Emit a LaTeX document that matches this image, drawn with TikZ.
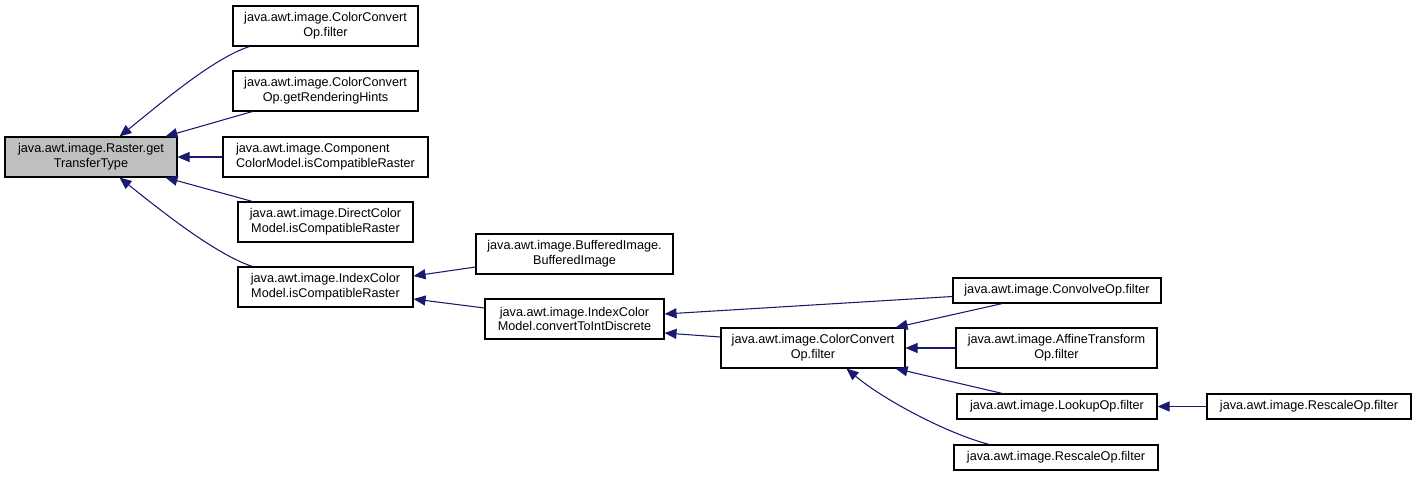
\documentclass[tikz,border=0pt]{standalone}
\usepackage{fontspec}
\setmainfont{Liberation Sans}
\usetikzlibrary{arrows.meta,calc}
\definecolor{edgeblue}{HTML}{191970}
\definecolor{grayfill}{HTML}{BFBFBF}
\begin{document}
\begin{tikzpicture}[x=0.75pt,y=-0.75pt,
  box/.style={draw=black,line width=0.8pt,fill=white,inner sep=0pt,align=center,
    font=\fontsize{9.5}{11.2}\selectfont},
  edge/.style={draw=edgeblue,line width=0.8pt,-{Triangle[length=9pt,width=7.5pt]}}]
\useasboundingbox (0,0) rectangle (1416,477);
% nodes
\node[box,fill=grayfill,minimum width=129pt,minimum height=30pt] (A) at (91,157) {java.awt.image.Raster.get\\TransferType};
\node[box,minimum width=138.75pt,minimum height=30pt] (B1) at (325.5,26) {java.awt.image.ColorConvert\\Op.filter};
\node[box,minimum width=138.75pt,minimum height=30pt] (B2) at (325.5,91) {java.awt.image.ColorConvert\\Op.getRenderingHints};
\node[box,minimum width=153.75pt,minimum height=30pt,align=left] (B3) at (325.5,157) {java.awt.image.Component\\ColorModel.isCompatibleRaster};
\node[box,minimum width=131.25pt,minimum height=30pt] (B4) at (325.5,222) {java.awt.image.DirectColor\\Model.isCompatibleRaster};
\node[box,minimum width=131.25pt,minimum height=30pt] (B5) at (325.5,287) {java.awt.image.IndexColor\\Model.isCompatibleRaster};
\node[box,minimum width=147.75pt,minimum height=30pt] (C1) at (574.5,254) {java.awt.image.BufferedImage.\\BufferedImage};
\node[box,minimum width=134.25pt,minimum height=30pt] (C2) at (574.5,319) {java.awt.image.IndexColor\\Model.convertToIntDiscrete};
\node[box,minimum width=138pt,minimum height=30pt] (D) at (813,348) {java.awt.image.ColorConvert\\Op.filter};
\node[box,minimum width=156pt,minimum height=18.75pt] (E1) at (1057,290.5) {java.awt.image.ConvolveOp.filter};
\node[box,minimum width=150.75pt,minimum height=30pt] (E2) at (1056.5,348) {java.awt.image.AffineTransform\\Op.filter};
\node[box,minimum width=150pt,minimum height=18.75pt] (E3) at (1057,406.5) {java.awt.image.LookupOp.filter};
\node[box,minimum width=153pt,minimum height=18.75pt] (E4) at (1056,457.5) {java.awt.image.RescaleOp.filter};
\node[box,minimum width=153pt,minimum height=18.75pt] (F) at (1309,406.5) {java.awt.image.RescaleOp.filter};
% edges
\draw[edge] ($(B1.south west)+(17,0)$) .. controls ($(B1.south west)+(-20,12)$) and ($(A.north west)+(155,-32)$) .. ($(A.north west)+(115,0)$);
\draw[edge] ($(B2.south west)+(20,0)$) -- ($(A.north west)+(161,0)$);
\draw[edge] (B3.west) -- (A.east);
\draw[edge] ($(B4.north west)+(15,0)$) -- ($(A.south west)+(161,0)$);
\draw[edge] ($(B5.north west)+(15,0)$) .. controls ($(B5.north west)+(-22,-12)$) and ($(A.south west)+(155,32)$) .. ($(A.south west)+(115,0)$);
\draw[edge] ($(C1.west)+(0,13)$) -- ($(B5.east)+(0,-11)$);
\draw[edge] ($(C2.west)+(0,-11)$) -- ($(B5.east)+(0,12)$);
\draw[edge] ($(E1.west)+(0,6)$) -- ($(C2.east)+(0,-5)$);
\draw[edge] ($(D.west)+(0,-11)$) -- ($(C2.east)+(0,14)$);
\draw[edge] ($(E1.south west)+(50,0)$) -- ($(D.north east)+(-10,0)$);
\draw[edge] (E2.west) -- (D.east);
\draw[edge] ($(E3.north west)+(46,0)$) -- ($(D.south east)+(-10,0)$);
\draw[edge] ($(E4.north west)+(36,0)$) .. controls ($(E4.north west)+(-4,-10)$) and ($(D.south west)+(164,32)$) .. ($(D.south west)+(126,0)$);
\draw[edge] (F.west) -- (E3.east);
\end{tikzpicture}
\end{document}
